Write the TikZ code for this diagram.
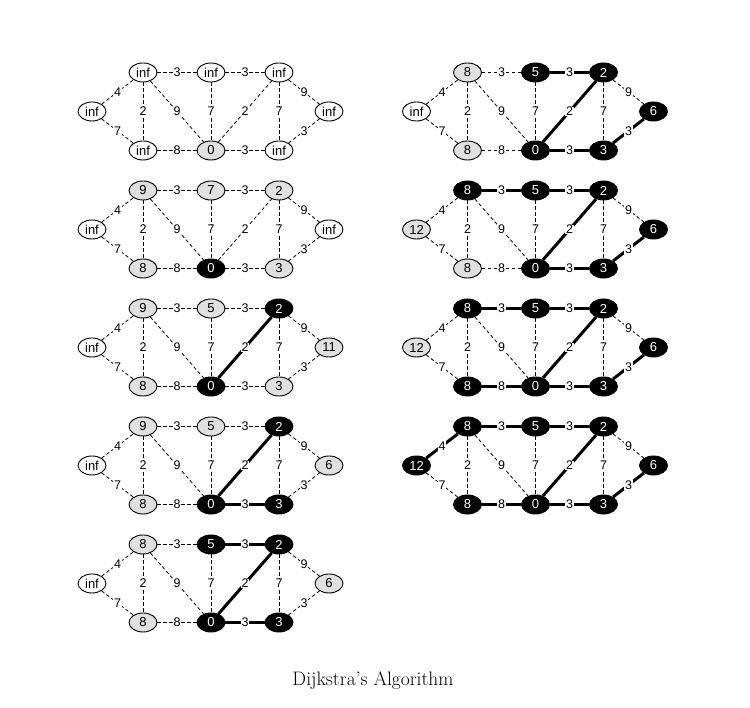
\documentclass[tikz,border=0pt]{standalone}
\usepackage{fontspec}
\usepackage{tikz}
\usetikzlibrary{shapes.geometric}
\newfontfamily\nodefont{Liberation Sans}
\tikzstyle{vtx} = [draw=black, ellipse, line width=0.9pt,
minimum width=28pt, minimum height=19pt, inner sep=0pt,
font=\nodefont\fontsize{13}{14}\selectfont]
\tikzstyle{wn} = [vtx, fill=white]
\tikzstyle{gn} = [vtx, fill=black!12]
\tikzstyle{bn} = [vtx, fill=black, text=white]
\tikzstyle{road} = [dash pattern=on 3.5pt off 2.5pt, line width=0.8pt]
\tikzstyle{hot} = [solid, line width=3pt]
\tikzstyle{wlabel} = [fill=white, inner sep=0.6pt,
font=\nodefont\fontsize{12.5}{14}\selectfont]
% one state of the graph: prefix, place of the left node, nodes, thick edges
\newcommand{\dgraph}[4]{%
  \begin{scope}[shift={#2}, #4]
    \foreach \n/\x/\y in {L/0/0, A/51/39, B/119/39, C/187/39,
                          D/51/-39, E/119/-39, F/187/-39, R/237/0}
      \coordinate (#1\n-at) at (\x,\y);
    \foreach \n/\s/\t in {#3}
      \node[\s] (#1\n) at (#1\n-at) {\t};
    \foreach \a/\b/\w in {L/A/4, L/D/7, A/B/3, B/C/3, A/D/2, A/E/9, B/E/7,
                          E/C/2, C/F/7, C/R/9, F/R/3, D/E/8, E/F/3}
      \draw[road, e\a\b/.try] (#1\a) -- node[wlabel] {\w} (#1\b);
  \end{scope}}

\begin{document}
\begin{tikzpicture}[x=1pt, y=1pt]
        \useasboundingbox (0,0) rectangle (750,708);
        % left column
        \dgraph{a}{(92,596.5)}{L/wn/inf, A/wn/inf, B/wn/inf, C/wn/inf,
            D/wn/inf, E/gn/0, F/wn/inf, R/wn/inf}{}
        \dgraph{b}{(92,478.5)}{L/wn/inf, A/gn/9, B/gn/7, C/gn/2,
            D/gn/8, E/bn/0, F/gn/3, R/wn/inf}{}
        \dgraph{c}{(92,360.5)}{L/wn/inf, A/gn/9, B/gn/5, C/bn/2,
            D/gn/8, E/bn/0, F/gn/3, R/gn/11}{eEC/.style=hot}
        \dgraph{d}{(92,242.5)}{L/wn/inf, A/gn/9, B/gn/5, C/bn/2,
            D/gn/8, E/bn/0, F/bn/3, R/gn/6}{eEC/.style=hot, eEF/.style=hot}
        \dgraph{e}{(92,124.5)}{L/wn/inf, A/gn/8, B/bn/5, C/bn/2,
            D/gn/8, E/bn/0, F/bn/3, R/gn/6}{eEC/.style=hot, eEF/.style=hot,
            eBC/.style=hot}
        % right column
        \dgraph{f}{(416.5,596.5)}{L/wn/inf, A/gn/8, B/bn/5, C/bn/2,
            D/gn/8, E/bn/0, F/bn/3, R/bn/6}{eEC/.style=hot, eEF/.style=hot,
            eBC/.style=hot, eFR/.style=hot}
        \dgraph{g}{(416.5,478.5)}{L/gn/12, A/bn/8, B/bn/5, C/bn/2,
            D/gn/8, E/bn/0, F/bn/3, R/bn/6}{eEC/.style=hot, eEF/.style=hot,
            eBC/.style=hot, eFR/.style=hot, eAB/.style=hot}
        \dgraph{h}{(416.5,360.5)}{L/gn/12, A/bn/8, B/bn/5, C/bn/2,
            D/bn/8, E/bn/0, F/bn/3, R/bn/6}{eEC/.style=hot, eEF/.style=hot,
            eBC/.style=hot, eFR/.style=hot, eAB/.style=hot, eDE/.style=hot}
        \dgraph{i}{(416.5,242.5)}{L/bn/12, A/bn/8, B/bn/5, C/bn/2,
            D/bn/8, E/bn/0, F/bn/3, R/bn/6}{eEC/.style=hot, eEF/.style=hot,
            eBC/.style=hot, eFR/.style=hot, eAB/.style=hot, eDE/.style=hot,
            eLA/.style=hot}
        \node[anchor=base, font=\fontsize{19.5}{22}\selectfont] (caption)
            at (373,22) {Dijkstra’s Algorithm};
\end{tikzpicture}
\end{document}
